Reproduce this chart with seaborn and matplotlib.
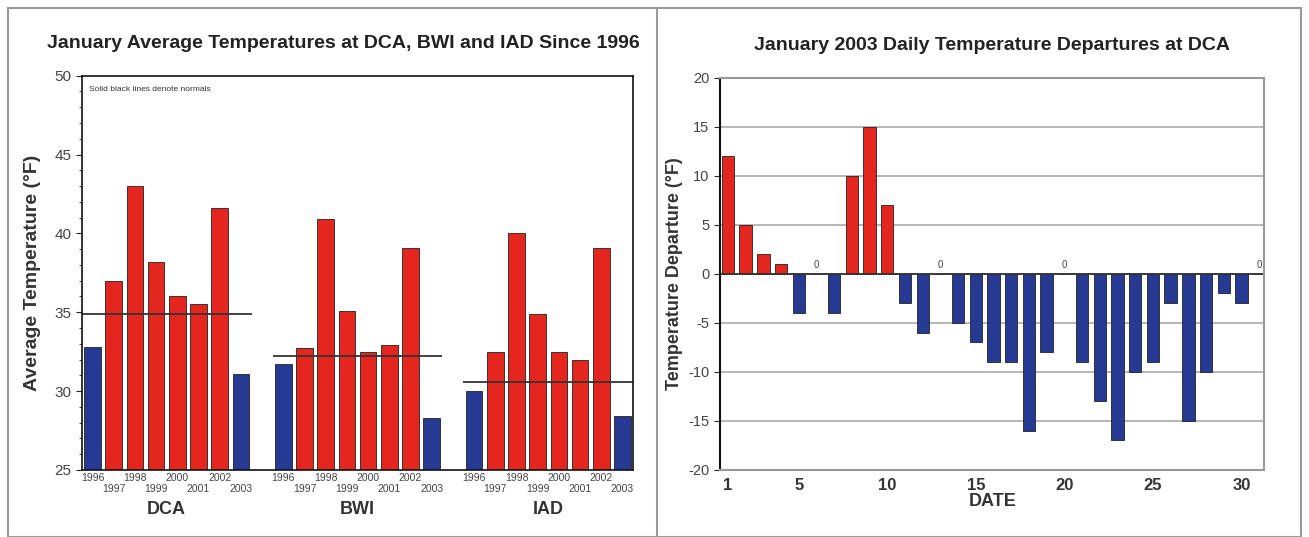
import numpy as np
import pandas as pd
import seaborn as sns
import matplotlib.pyplot as plt
import matplotlib.transforms as mtransforms
from matplotlib.patches import Rectangle
from matplotlib.lines import Line2D
from matplotlib.ticker import MultipleLocator

# january average temperatures since 1996
years = [1996, 1997, 1998, 1999, 2000, 2001, 2002, 2003]
stations = ["DCA", "BWI", "IAD"]
dca_temps = [32.8, 37.0, 43.0, 38.2, 36.0, 35.5, 41.6, 31.1]
bwi_temps = [31.7, 32.7, 40.9, 35.1, 32.5, 32.9, 39.1, 28.3]
iad_temps = [30.0, 32.5, 40.0, 34.9, 32.5, 32.0, 39.1, 28.4]
normals = [34.9, 32.2, 30.6]

# january 2003 daily departures at DCA
days = list(range(1, 32))
departures = [12, 5, 2, 1, -4, 0, -4, 10, 15, 7, -3, -6, 0, -5, -7, -9,
              -9, -16, -8, 0, -9, -13, -17, -10, -9, -3, -15, -10, -2, -3, 0]

RED = "#e4261f"
BLUE = "#263a94"

sns.set_style("ticks")
plt.rcParams["font.family"] = ["Liberation Sans", "DejaVu Sans"]
plt.rcParams["axes.unicode_minus"] = False

# PREPARE DATA
rows = []
for g, (st, temps, norm) in enumerate(zip(stations, [dca_temps, bwi_temps, iad_temps], normals)):
    for i, (yr, t) in enumerate(zip(years, temps)):
        rows.append({"station": st, "year": yr, "slot": g * (len(years) + 1) + i,
                     "temp": t, "side": "above" if t > norm else "below"})
avg = pd.DataFrame(rows)

dep = pd.DataFrame({"day": days, "departure": departures})
dep["sign"] = np.where(dep["departure"] > 0, "warm", "cold")

fig = plt.figure(figsize=(13.09, 5.37), dpi=100)
ax1 = fig.add_axes([0.0626, 0.125, 0.421, 0.734])
ax2 = fig.add_axes([0.550, 0.125, 0.416, 0.730])

# LEFT: AVERAGE TEMPERATURES
sns.barplot(data=avg, x="slot", y="temp", hue="side", palette={"above": RED, "below": BLUE},
            native_scale=True, dodge=False, width=0.78, errorbar=None, legend=False,
            saturation=1, edgecolor="#222222", linewidth=0.6, ax=ax1)
for g, norm in enumerate(normals):
    start = g * (len(years) + 1)
    ax1.hlines(norm, start - 0.5, start + len(years) - 0.5, color="#333333", lw=1.3)

ax1.set_xlim(-0.5, 25.5)
ax1.set_ylim(25, 50)
ax1.set_yticks(range(25, 51, 5))
ax1.yaxis.set_minor_locator(MultipleLocator(1))
ax1.tick_params(axis="y", which="major", labelsize=11, length=4, colors="#222222", labelcolor="#444444")
ax1.tick_params(axis="y", which="minor", length=2)
ax1.set_xticks(avg["slot"])
ax1.set_xticklabels([str(y) if y % 2 == 0 else "\n" + str(y) for y in avg["year"]])
ax1.tick_params(axis="x", length=0, labelsize=7.5, pad=2, labelcolor="#444444")
ax1.set_xlabel("")
ax1.set_ylabel("Average Temperature (°F)", fontsize=14, fontweight="bold", color="#333333", labelpad=10)
for sp in ax1.spines.values():
    sp.set_visible(True)
    sp.set_color("#111111")
    sp.set_linewidth(1.2)

trans = mtransforms.blended_transform_factory(ax1.transData, ax1.transAxes)
for g, st in enumerate(stations):
    center = g * (len(years) + 1) + (len(years) - 1) / 2
    ax1.text(center, -0.1, st, transform=trans, ha="center", va="center",
             fontsize=13, fontweight="bold", color="#333333")
ax1.text(0.012, 0.975, "Solid black lines denote normals", transform=ax1.transAxes,
         fontsize=6, va="top", color="#333333")
ax1.set_title("January Average Temperatures at DCA, BWI and IAD Since 1996",
              fontsize=14, fontweight="bold", color="#222222", pad=20, x=0.475)

# RIGHT: DAILY DEPARTURES
ax2.yaxis.grid(True, color="#aaaaaa", lw=1.2)
ax2.set_axisbelow(True)
sns.barplot(data=dep, x="day", y="departure", hue="sign", palette={"warm": RED, "cold": BLUE},
            native_scale=True, dodge=False, width=0.7, errorbar=None, legend=False,
            saturation=1, edgecolor="#222222", linewidth=0.6, ax=ax2)
ax2.axhline(0, color="#333333", lw=1.3)
for d, v in zip(days, departures):
    if v == 0:
        ax2.text(d, 0.4, "0", ha="center", va="bottom", fontsize=7, color="#444444")

ax2.set_xlim(0.55, 31.3)
ax2.set_ylim(-20, 20)
ax2.set_yticks(range(-20, 21, 5))
ax2.set_xticks([1, 5, 10, 15, 20, 25, 30])
ax2.tick_params(axis="y", labelsize=10.5, length=4, labelcolor="#444444")
ax2.tick_params(axis="x", length=0, labelsize=12, pad=6, labelcolor="#333333")
for lab in ax2.get_xticklabels():
    lab.set_fontweight("bold")
ax2.set_xlabel("DATE", fontsize=13, fontweight="bold", color="#333333", labelpad=0)
ax2.set_ylabel("Temperature Departure (°F)", fontsize=13, fontweight="bold", color="#333333", labelpad=4)
for name, sp in ax2.spines.items():
    sp.set_visible(True)
    sp.set_color("#999999" if name != "left" else "#111111")
    sp.set_linewidth(1.5)
ax2.set_title("January 2003 Daily Temperature Departures at DCA",
              fontsize=14, fontweight="bold", color="#222222", pad=20)

# PANEL FRAMES
fig.add_artist(Rectangle((8 / 1309, 0), 1293 / 1309, 1 - 8 / 537, transform=fig.transFigure,
                         fill=False, edgecolor="#999999", lw=1.5))
fig.add_artist(Line2D([657 / 1309, 657 / 1309], [0, 1 - 8 / 537], transform=fig.transFigure,
                      color="#999999", lw=1.5))

fig.savefig("out.png", dpi=100)
